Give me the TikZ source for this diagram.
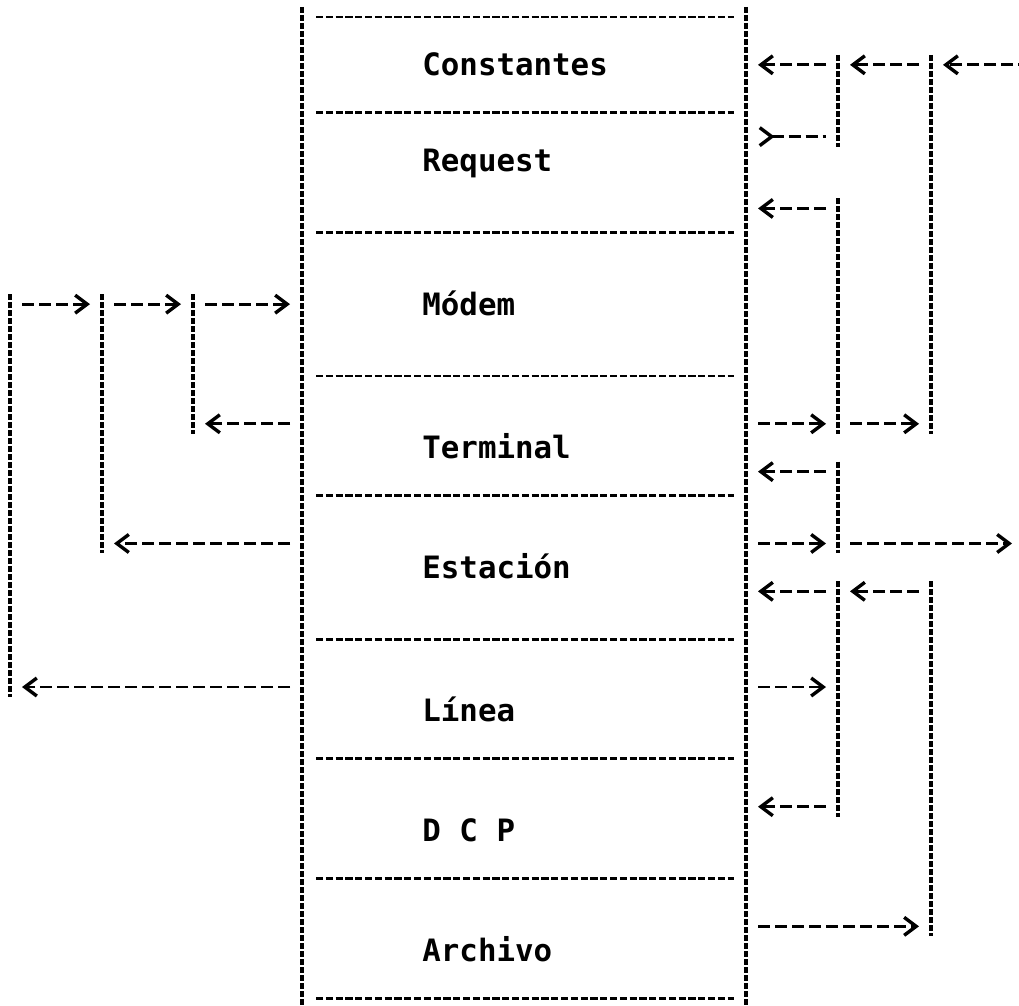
\documentclass[tikz,border=0pt]{standalone}
\usepackage{fontspec}
\newfontfamily\dotfont{DejaVu Sans Mono}
\usetikzlibrary{arrows.meta}

\begin{document}
\begin{tikzpicture}[x=0.5pt,y=-0.5pt,
  declare function={ry(\r)=17+23.93*\r;},
  vbar/.style={line width=1.7pt, dash pattern=on 3pt off 1pt},
  hbar/.style={line width=1.4pt, dash pattern=on 3.6pt off 1.3pt},
  bar/.style={vbar, shorten <=-5pt, shorten >=-5pt},
  tipbarb/.tip={Straight Barb[length=6pt,width=9pt,line width=1.7pt]},
  flow/.style={line width=1.4pt, dash pattern=on 6pt off 2.5pt,
    shorten <=6pt, shorten >=6pt, -tipbarb},
  flowrev/.style={line width=1.4pt, dash pattern=on 6pt off 2.5pt,
    shorten <=6pt, shorten >=6pt, {tipbarb[reversed]}-},
  rowtext/.style={font=\dotfont\bfseries\fontsize{15.4}{18}\selectfont,
    anchor=base west, inner sep=0pt}]

\useasboundingbox (0,0) rectangle (1019,1006);

% column anchors on every text row
\foreach \r in {0,...,41}{
  \coordinate (L0-\r) at (10,{ry(\r)});
  \coordinate (L1-\r) at (102,{ry(\r)});
  \coordinate (L2-\r) at (193,{ry(\r)});
  \coordinate (A-\r)  at (302,{ry(\r)});
  \coordinate (B-\r)  at (746,{ry(\r)});
  \coordinate (V1-\r) at (838,{ry(\r)});
  \coordinate (V2-\r) at (931,{ry(\r)});
}
\coordinate (in2)   at (1030,{ry(2)});
\coordinate (out22) at (1012,{ry(22)});

% the stacked table
\draw[bar] (A-0) -- (A-41);
\draw[bar] (B-0) -- (B-41);
\foreach \r in {0,4,9,15,20,26,31,36,41}
  \draw[hbar, shorten <=7pt, shorten >=6pt] (A-\r) -- (B-\r);

\node[rowtext] (tConst) at (422,{ry(2)+11})  {Constantes};
\node[rowtext] (tReq)   at (422,{ry(6)+11})  {Request};
\node[rowtext] (tModem) at (422,{ry(12)+11}) {Módem};
\node[rowtext] (tTerm)  at (422,{ry(18)+11}) {Terminal};
\node[rowtext] (tEst)   at (422,{ry(23)+11}) {Estación};
\node[rowtext] (tLin)   at (422,{ry(29)+11}) {Línea};
\node[rowtext] (tDCP)   at (422,{ry(34)+11}) {D C P};
\node[rowtext] (tArch)  at (422,{ry(39)+11}) {Archivo};

% left-hand bus lines
\draw[bar] (L0-12) -- (L0-28);
\draw[bar] (L1-12) -- (L1-22);
\draw[bar] (L2-12) -- (L2-17);

\draw[flow] (L0-12) -- (L1-12);
\draw[flow] (L1-12) -- (L2-12);
\draw[flow] (L2-12) -- (A-12);
\draw[flow] (A-17) -- (L2-17);
\draw[flow] (A-22) -- (L1-22);
\draw[flow] (A-28) -- (L0-28);

% right-hand bus lines
\draw[bar] (V1-2)  -- (V1-5);
\draw[bar] (V1-8)  -- (V1-17);
\draw[bar] (V1-19) -- (V1-22);
\draw[bar] (V1-24) -- (V1-33);
\draw[bar] (V2-2)  -- (V2-17);
\draw[bar] (V2-24) -- (V2-38);

\draw[flow, shorten <=0pt] (in2) -- (V2-2);
\draw[flow] (V2-2) -- (V1-2);
\draw[flow] (V1-2) -- (B-2);
\draw[flowrev] (B-5) -- (V1-5);
\draw[flow] (V1-8) -- (B-8);
\draw[flow] (B-17) -- (V1-17);
\draw[flow] (V1-17) -- (V2-17);
\draw[flow] (V1-19) -- (B-19);
\draw[flow] (B-22) -- (V1-22);
\draw[flow, shorten >=0pt] (V1-22) -- (out22);
\draw[flow] (V1-24) -- (B-24);
\draw[flow] (V2-24) -- (V1-24);
\draw[flow] (B-28) -- (V1-28);
\draw[flow] (V1-33) -- (B-33);
\draw[flow] (B-38) -- (V2-38);
\end{tikzpicture}
\end{document}
